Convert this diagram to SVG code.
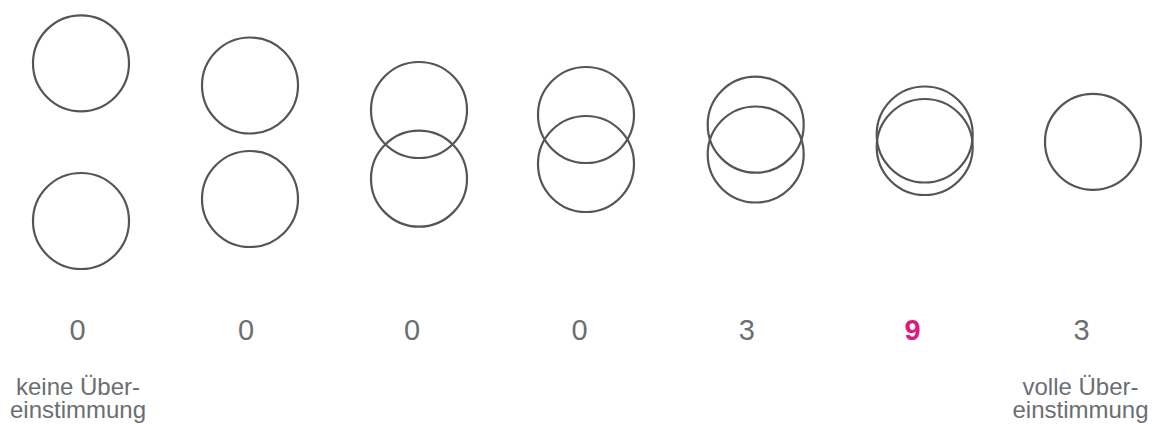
<svg xmlns="http://www.w3.org/2000/svg" width="1159" height="424" viewBox="0 0 1159 424">
<style>
.c{fill:none;stroke:#555;stroke-width:2.2}
.n{font-family:"Liberation Sans",Arial,sans-serif;font-size:29px;fill:#6b6e72;text-anchor:middle}
.h{fill:#e0197f;font-weight:bold}
.l{font-family:"Liberation Sans",Arial,sans-serif;font-size:24px;fill:#6b6e72;text-anchor:middle}
</style>
<rect width="1159" height="424" fill="#fff"/>
<g id="pair1"><circle class="c" cx="81" cy="63.3" r="48"/><circle class="c" cx="81" cy="221" r="48"/></g>
<g id="pair2"><circle class="c" cx="250" cy="85.5" r="48"/><circle class="c" cx="250" cy="199" r="48"/></g>
<g id="pair3"><circle class="c" cx="419" cy="110" r="48"/><circle class="c" cx="419" cy="178.7" r="48"/></g>
<g id="pair4"><circle class="c" cx="586" cy="115" r="48"/><circle class="c" cx="586" cy="164" r="48"/></g>
<g id="pair5"><circle class="c" cx="755.7" cy="124.7" r="48"/><circle class="c" cx="755.7" cy="154.5" r="48"/></g>
<g id="pair6"><circle class="c" cx="924.7" cy="134.5" r="48"/><circle class="c" cx="924.7" cy="147" r="48"/></g>
<g id="pair7"><circle class="c" cx="1093" cy="141.8" r="48"/></g>
<g id="scores">
<text class="n" x="77.5" y="340">0</text>
<text class="n" x="246" y="340">0</text>
<text class="n" x="412" y="340">0</text>
<text class="n" x="579.5" y="340">0</text>
<text class="n" x="746.8" y="340">3</text>
<text class="n h" x="912.5" y="340">9</text>
<text class="n" x="1081.5" y="340">3</text>
</g>
<g id="labels">
<text class="l" x="78" y="395">keine Über-</text>
<text class="l" x="78" y="418">einstimmung</text>
<text class="l" x="1080.5" y="395">volle Über-</text>
<text class="l" x="1080.5" y="418">einstimmung</text>
</g>
</svg>
